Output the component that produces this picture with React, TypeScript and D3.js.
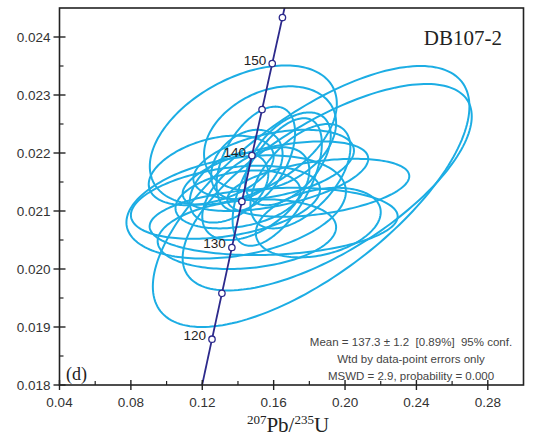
import React, { useEffect, useRef } from 'react';
import * as d3 from 'd3';

// axis ticks
const xTicks = [0.04, 0.08, 0.12, 0.16, 0.2, 0.24, 0.28];
const xMinorTicks = [0.06, 0.1, 0.14, 0.18, 0.22, 0.26];
const yTicks = [0.018, 0.019, 0.02, 0.021, 0.022, 0.023, 0.024];
const yMinorTicks = [0.0185, 0.0195, 0.0205, 0.0215, 0.0225, 0.0235];

// concordia age markers (Ma) and which ones carry a label
const markerAges = [120, 125, 130, 135, 140, 145, 150, 155];
const labelAges = [120, 130, 140, 150];

// error ellipses: centre, half-widths (data units) and error correlation
const ellCx = [0.181, 0.19, 0.143, 0.185, 0.16, 0.139, 0.133, 0.158, 0.161, 0.16, 0.15, 0.145, 0.14, 0.145, 0.162, 0.175, 0.135, 0.125, 0.185, 0.168, 0.15];
const ellCy = [0.02125, 0.02141, 0.02231, 0.0214, 0.02082, 0.02107, 0.02115, 0.02225, 0.0216, 0.0218, 0.0219, 0.0218, 0.0212, 0.0206, 0.0215, 0.0216, 0.0214, 0.0217, 0.0208, 0.0219, 0.0213];
const ellSx = [0.0887, 0.081, 0.0524, 0.051, 0.0695, 0.0615, 0.053, 0.037, 0.052, 0.045, 0.022, 0.02, 0.035, 0.05, 0.025, 0.028, 0.022, 0.035, 0.035, 0.024, 0.03];
const ellSy = [0.00225, 0.00178, 0.0012, 0.0005, 0.00058, 0.00089, 0.00063, 0.0009, 0.0006, 0.0006, 0.0009, 0.0006, 0.0005, 0.0006, 0.0011, 0.0009, 0.0006, 0.0006, 0.0006, 0.0008, 0.0008];
const ellRho = [0.69, 0.686, 0.45, 0.4, 0.15, 0.3, 0.35, 0.3, 0.5, 0.4, 0.5, 0.3, 0.3, 0.2, 0.6, 0.55, 0.4, 0.4, 0.3, 0.5, 0.5];

const annotation = [
  'Mean = 137.3 \u00b1 1.2 \u00a0[0.89%] \u00a095% conf.',
  'Wtd by data-point errors only',
  'MSWD = 2.9, probability = 0.000',
];

const L238 = 1.55125e-10;
const L235 = 9.8485e-10;
const conc = (t: number) => ({
  x: Math.exp(L235 * t * 1e6) - 1,
  y: Math.exp(L238 * t * 1e6) - 1,
});

const W = 534;
const H = 438;

const App: React.FC = () => {
  const svgRef = useRef<SVGSVGElement>(null);

  useEffect(() => {
    const svg = d3.select(svgRef.current);
    svg.selectAll('*').remove();

    const left = 59.5, right = 523.5, top = 8, bottom = 385;
    const x = d3.scaleLinear().domain([0.04, 0.3]).range([left, right]);
    const y = d3.scaleLinear().domain([0.018, 0.0245]).range([bottom, top]);

    svg.append('rect').attr('width', W).attr('height', H).attr('fill', '#fff');

    svg.append('defs').append('clipPath').attr('id', 'plotclip')
      .append('rect').attr('x', left).attr('y', top)
      .attr('width', right - left).attr('height', bottom - top);

    const plot = svg.append('g').attr('clip-path', 'url(#plotclip)');

    // ellipses
    const line = d3.line<[number, number]>().curve(d3.curveLinearClosed);
    ellCx.forEach((cx, i) => {
      const sx = ellSx[i], sy = ellSy[i], r = ellRho[i];
      const pts: [number, number][] = d3.range(0, 2 * Math.PI, Math.PI / 90).map(t => [
        x(cx + sx * Math.cos(t)),
        y(ellCy[i] + sy * (r * Math.cos(t) + Math.sqrt(1 - r * r) * Math.sin(t))),
      ]);
      plot.append('path').attr('d', line(pts)).attr('fill', 'none')
        .attr('stroke', '#1cade4').attr('stroke-width', 2);
    });

    // concordia
    const curve = d3.range(110, 160.01, 0.5).map(t => conc(t));
    plot.append('path')
      .attr('d', d3.line<{ x: number; y: number }>().x(d => x(d.x)).y(d => y(d.y))(curve))
      .attr('fill', 'none').attr('stroke', '#2d2a8c').attr('stroke-width', 1.8);

    markerAges.forEach(a => {
      const p = conc(a);
      plot.append('circle').attr('cx', x(p.x)).attr('cy', y(p.y)).attr('r', 3.2)
        .attr('fill', '#fff').attr('stroke', '#2d2a8c').attr('stroke-width', 1.3);
    });
    labelAges.forEach(a => {
      const p = conc(a);
      svg.append('text').attr('x', x(p.x) - 6).attr('y', y(p.y) + 1)
        .attr('text-anchor', 'end').attr('font-family', 'Liberation Sans, Arial, sans-serif')
        .attr('font-size', 13.5).attr('fill', '#222').text(String(a));
    });

    // frame
    svg.append('rect').attr('x', left).attr('y', top)
      .attr('width', right - left).attr('height', bottom - top)
      .attr('fill', 'none').attr('stroke', '#222').attr('stroke-width', 1.6);

    const tickColor = '#222';
    xTicks.forEach(v => {
      svg.append('line').attr('x1', x(v)).attr('x2', x(v)).attr('y1', bottom - 5).attr('y2', bottom + 5)
        .attr('stroke', tickColor).attr('stroke-width', 1.4);
      svg.append('text').attr('x', x(v)).attr('y', bottom + 22).attr('text-anchor', 'middle')
        .attr('font-family', 'Liberation Sans, Arial, sans-serif').attr('font-size', 13.5)
        .attr('fill', '#333').text(v.toFixed(2));
    });
    xMinorTicks.forEach(v => {
      svg.append('line').attr('x1', x(v)).attr('x2', x(v)).attr('y1', bottom - 4).attr('y2', bottom)
        .attr('stroke', tickColor).attr('stroke-width', 1.2);
    });
    yTicks.forEach(v => {
      svg.append('line').attr('x1', left - 6).attr('x2', left + 6).attr('y1', y(v)).attr('y2', y(v))
        .attr('stroke', tickColor).attr('stroke-width', 1.4);
      svg.append('text').attr('x', left - 9).attr('y', y(v) + 4.5).attr('text-anchor', 'end')
        .attr('font-family', 'Liberation Sans, Arial, sans-serif').attr('font-size', 13.5)
        .attr('fill', '#333').text(v.toFixed(3));
    });
    yMinorTicks.forEach(v => {
      svg.append('line').attr('x1', left).attr('x2', left + 4).attr('y1', y(v)).attr('y2', y(v))
        .attr('stroke', tickColor).attr('stroke-width', 1.2);
    });

    // axis title
    const title = svg.append('text').attr('x', 288).attr('y', 432).attr('text-anchor', 'middle')
      .attr('font-family', 'Liberation Serif, Times New Roman, serif').attr('font-size', 21).attr('fill', '#222');
    title.append('tspan').attr('font-size', 13).attr('dy', -8).text('207');
    title.append('tspan').attr('dy', 8).text('Pb/');
    title.append('tspan').attr('font-size', 13).attr('dy', -8).text('235');
    title.append('tspan').attr('dy', 8).text('U');

    svg.append('text').attr('x', 502).attr('y', 45).attr('text-anchor', 'end')
      .attr('font-family', 'Liberation Serif, Times New Roman, serif').attr('font-size', 21)
      .attr('fill', '#222').text('DB107-2');

    svg.append('text').attr('x', 66).attr('y', 380)
      .attr('font-family', 'Liberation Serif, Times New Roman, serif').attr('font-size', 18)
      .attr('fill', '#222').text('(d)');

    annotation.forEach((s, i) => {
      svg.append('text').attr('x', 411).attr('y', 346 + i * 17).attr('text-anchor', 'middle')
        .attr('font-family', 'Liberation Sans, Arial, sans-serif').attr('font-size', 11.5)
        .attr('fill', '#444').text(s);
    });
  }, []);

  return (
    <svg ref={svgRef} width={W} height={H}
      style={{ position: 'absolute', left: 0, top: 0, display: 'block' }} />
  );
};

export default App;
